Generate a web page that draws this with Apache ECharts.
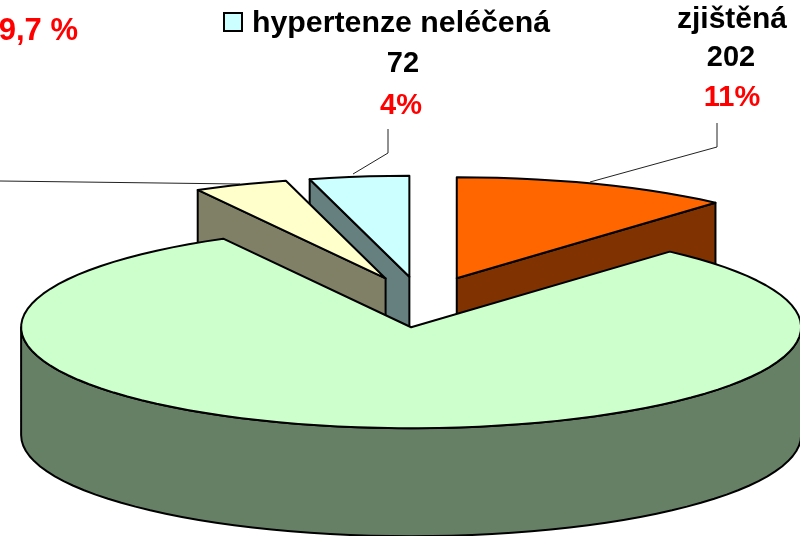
<!DOCTYPE html>
<html>
<head>
<meta charset="utf-8">
<style>
  html, body { margin: 0; padding: 0; background: #fff; }
  #myChart { width: 800px; height: 536px; }
</style>
<script src="https://cdn.jsdelivr.net/npm/echarts@6/dist/echarts.min.js"></script>
</head>
<body>
<div id="myChart"></div>
<script>
// clockwise from 12 o'clock
var categories = ['zjištěná', 'léčená', 'neléčená 2', 'hypertenze neléčená']
var values = [202, 1408, 68, 72]
var topColors = ['#FF6600', '#CCFFCC', '#FFFFCC', '#CCFFFF']
var wallColors = ['#803300', '#668066', '#808066', '#668080']
var drawOrder = [2, 4, 3, 1]

// pie geometry
var cx = 422
var cy = 302
var rx = 390
var ry = 101
var depth = 108
var explode = 98

var total = values.reduce(function (a, b) { return a + b }, 0)

function point (ox, oy, deg, dz) {
  var r = deg * Math.PI / 180
  return [ox + rx * Math.sin(r), oy - ry * Math.cos(r) + (dz || 0)]
}

function arc (ox, oy, from, to, dz) {
  var pts = []
  var n = Math.max(1, Math.ceil((to - from) / 3))
  for (var i = 0; i <= n; i++) {
    pts.push(point(ox, oy, from + (to - from) * i / n, dz))
  }
  return pts
}

function renderSlice (params, api) {
  var idx = params.dataIndex
  var start = 0
  for (var i = 0; i < idx; i++) start += values[i] / total * 360
  var end = start + api.value(0) / total * 360
  var mid = (start + end) / 2 * Math.PI / 180
  var ox = cx + explode * Math.sin(mid)
  var oy = cy - explode * ry / rx * Math.cos(mid)
  var apex = [ox, oy]
  var children = []

  function add (points) {
    children.push({
      type: 'polygon',
      z2: drawOrder[idx],
      shape: { points: points },
      style: { fill: wallColors[idx], stroke: '#000', lineWidth: 2, lineJoin: 'round' }
    })
  }
  function radialWall (deg) {
    var p = point(ox, oy, deg)
    add([apex, p, [p[0], p[1] + depth], [ox, oy + depth]])
  }

  // only the walls facing the viewer
  if (Math.sin(start * Math.PI / 180) < -0.001) radialWall(start)
  if (Math.sin(end * Math.PI / 180) > 0.001) radialWall(end)
  var a0 = Math.max(start, 90)
  var a1 = Math.min(end, 270)
  if (a1 > a0) {
    add(arc(ox, oy, a0, a1, 0).concat(arc(ox, oy, a0, a1, depth).reverse()))
  }

  children.push({
    type: 'polygon',
    z2: drawOrder[idx],
    shape: { points: [apex].concat(arc(ox, oy, start, end, 0)) },
    style: { fill: topColors[idx], stroke: '#000', lineWidth: 2, lineJoin: 'round' }
  })
  return { type: 'group', children: children }
}

function label (text, x, y, color, align, size) {
  return {
    type: 'text',
    x: x,
    y: y,
    z: 10,
    style: {
      text: text,
      fill: color,
      font: 'bold ' + (size || 29) + 'px "Liberation Sans", Arial, sans-serif',
      align: align || 'center',
      verticalAlign: 'middle'
    }
  }
}

function leader (points) {
  return {
    type: 'polyline',
    z: 9,
    shape: { points: points },
    style: { stroke: '#222', lineWidth: 1, fill: null }
  }
}

var myChart = echarts.init(document.getElementById('myChart'))
myChart.setOption({
  animation: false,
  backgroundColor: '#fff',
  series: [
    {
      type: 'custom',
      coordinateSystem: 'none',
      silent: true,
      clip: false,
      data: values.map(function (v, i) { return { name: categories[i], value: [v] } }),
      renderItem: renderSlice
    }
  ],
  graphic: [
    leader([[0, 181], [240, 184]]),
    leader([[388, 129], [388, 153], [353, 174]]),
    leader([[717, 123], [717, 147], [590, 182]]),
    {
      type: 'rect',
      z: 10,
      shape: { x: 224, y: 13, width: 18, height: 18 },
      style: { fill: '#CCFFFF', stroke: '#000', lineWidth: 2 }
    },
    label('hypertenze neléčená', 252, 24, '#000', 'left', 30.3),
    label('72', 403, 64, '#000'),
    label('4%', 401, 106, '#FF0000'),
    label('zjištěná', 732, 20, '#000', 'center', 30),
    label('202', 731, 58, '#000'),
    label('11%', 732, 98, '#FF0000'),
    label('9,7 %', 78, 31, '#FF0000', 'right', 31)
  ]
})
</script>
</body>
</html>
